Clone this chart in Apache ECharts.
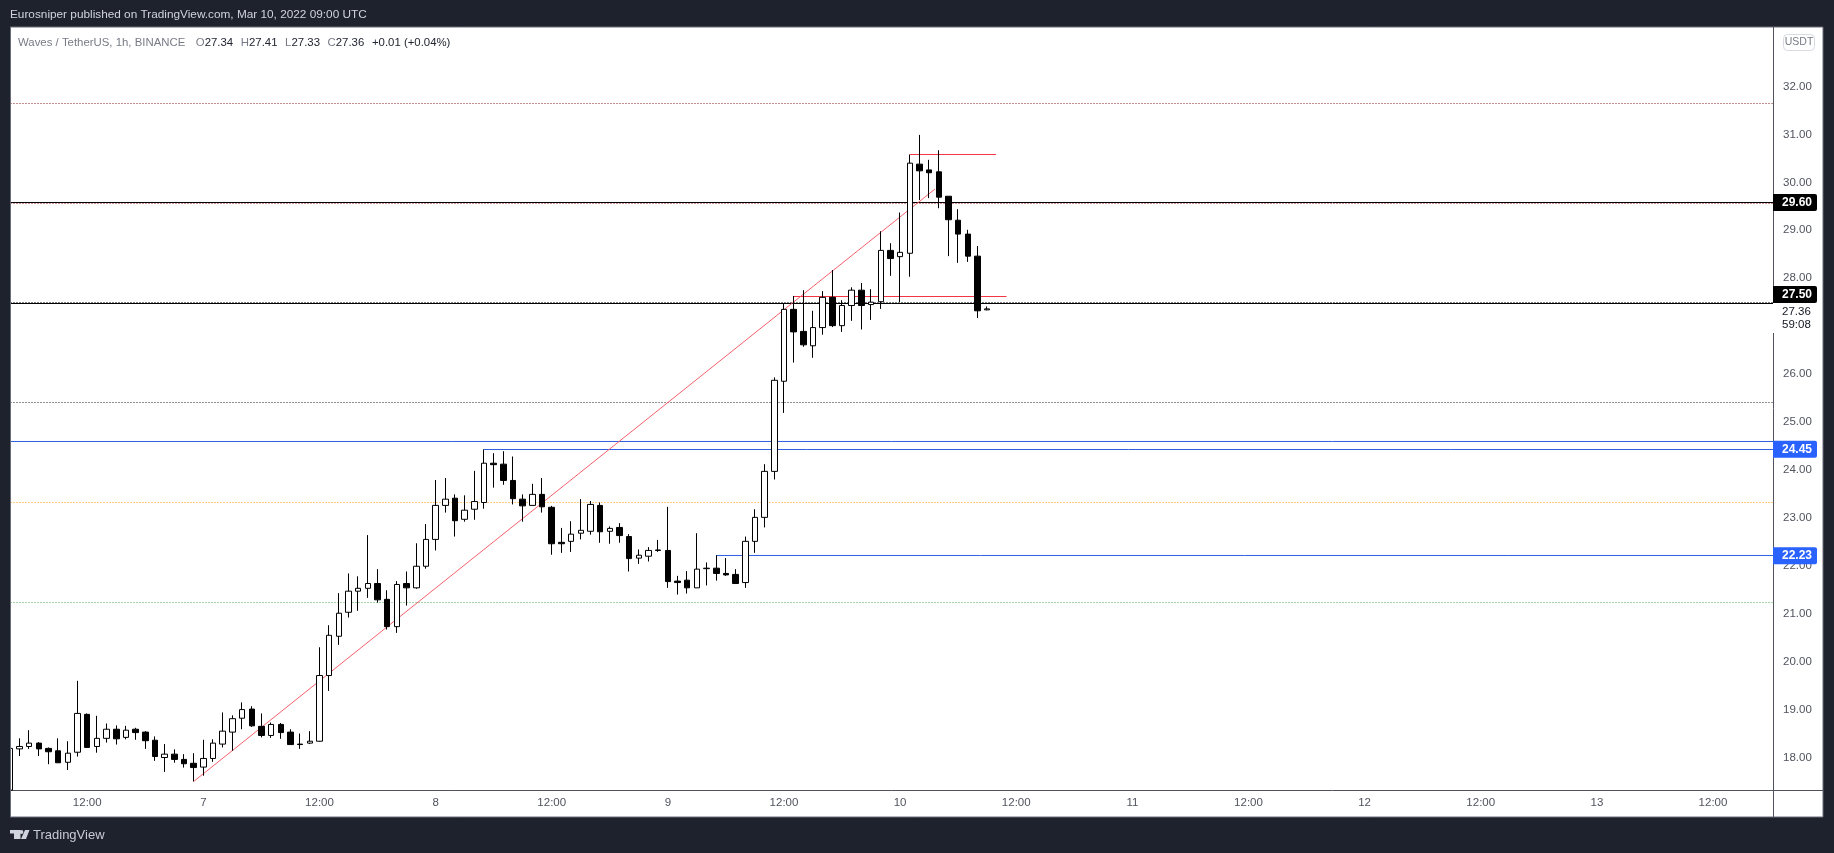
<!DOCTYPE html>
<html>
<head>
<meta charset="utf-8">
<style>html,body{margin:0;padding:0;background:#1e222d}#c{width:1834px;height:853px}</style>
<script src="https://cdn.jsdelivr.net/npm/echarts@6/dist/echarts.min.js"></script>
</head>
<body>
<div id="c"></div>
<script>
// Hour offsets from 7 Mar 00:00 (UTC); first bar = -20, last bar = 81
const firstHour = -20;
const opens = [
17.32,18.18,18.23,18.30,18.19,18.14,17.90,18.11,18.90,18.23,
18.40,18.59,18.42,18.59,18.53,18.36,18.00,18.07,17.96,17.88,
17.80,17.98,18.28,18.53,18.82,19.01,18.65,18.46,18.69,18.53,
18.28,18.30,18.34,19.71,20.53,21.03,21.47,21.53,21.63,21.30,
20.73,21.63,21.54,21.99,22.55,23.26,23.41,22.97,23.18,23.32,
24.14,24.12,23.78,23.39,23.26,23.49,23.22,22.49,22.51,22.68,
22.72,23.26,22.72,22.80,22.61,22.16,22.20,22.33,22.32,21.68,
21.70,21.54,21.94,21.95,21.84,21.82,21.65,22.51,23.01,23.97,
25.85,27.35,26.89,26.59,26.97,27.60,27.01,27.43,27.75,27.45,
27.51,28.58,28.45,28.52,30.38,30.26,30.22,29.71,29.21,28.92,28.46,27.34];
const closes = [
18.19,18.23,18.30,18.18,18.12,17.89,18.09,18.92,18.21,18.40,
18.59,18.39,18.57,18.52,18.35,18.02,18.07,17.96,17.87,17.79,
17.98,18.30,18.55,18.81,19.00,18.66,18.46,18.69,18.52,18.27,
18.27,18.34,19.71,20.55,21.01,21.47,21.53,21.63,21.29,20.73,
21.61,21.54,21.99,22.55,23.26,23.39,22.94,23.16,23.34,24.14,
24.11,23.78,23.40,23.25,23.49,23.23,22.46,22.46,22.66,22.74,
23.28,22.71,22.78,22.63,22.15,22.22,22.32,22.32,21.67,21.65,
21.54,21.93,21.95,21.84,21.81,21.63,22.51,23.01,23.97,25.87,
27.35,26.88,26.61,26.97,27.60,27.01,27.43,27.75,27.43,27.50,
28.58,28.41,28.54,30.40,30.24,30.20,29.69,29.22,28.92,28.46,27.32,27.36];
const highs = [
18.42,18.40,18.57,18.32,18.21,18.40,18.34,19.60,18.92,18.87,
18.71,18.67,18.66,18.62,18.55,18.44,18.28,18.17,18.07,18.09,
18.37,18.38,18.94,18.88,19.15,19.07,18.92,18.73,18.72,18.59,
18.50,18.55,20.30,20.76,21.43,21.84,21.78,22.64,21.93,21.49,
21.68,21.88,22.47,22.87,23.79,23.83,23.49,23.47,23.98,24.43,
24.35,24.39,24.28,23.49,23.71,23.83,23.25,22.79,22.93,23.39,
23.35,23.32,22.82,22.89,22.66,22.34,22.39,22.54,23.23,21.79,
21.89,22.68,22.07,22.22,22.16,21.93,22.61,23.18,24.12,25.93,
27.48,27.63,27.75,27.32,27.73,28.17,27.54,27.81,27.90,27.77,
28.98,28.73,29.37,30.58,30.99,30.47,30.67,29.71,29.44,29.01,28.67,27.41];
const lows = [
17.32,18.03,18.18,18.03,17.86,17.89,17.74,18.02,18.21,18.10,
18.31,18.27,18.38,18.37,18.18,17.93,17.70,17.89,17.79,17.50,
17.62,17.91,18.21,18.14,18.59,18.64,18.42,18.41,18.39,18.27,
18.18,18.28,18.33,19.39,20.35,20.92,21.06,21.33,21.23,20.67,
20.60,21.17,21.52,21.94,22.32,23.11,22.61,22.92,22.96,23.19,
23.63,23.69,23.28,22.92,23.26,23.11,22.23,22.27,22.29,22.55,
22.65,22.48,22.46,22.48,21.88,22.04,22.09,22.29,21.54,21.40,
21.42,21.54,21.59,21.69,21.79,21.63,21.54,22.27,22.80,23.80,
25.19,26.24,26.57,26.34,26.82,26.98,26.88,27.11,26.93,27.13,
27.36,28.05,27.50,28.03,29.63,29.67,29.46,28.46,28.32,28.34,27.17,27.33];

const priceTicks = [18,19,20,21,22,23,24,25,26,27,28,29,30,31,32];
const timeTicks = [-12,0,12,24,36,48,60,72,84,96,108,120,132,144,156];

// Horizontal levels
const dottedLevels = [
  {v:31.645,c:'#8c1c1c'},{v:29.558,c:'#a02020'},{v:27.493,c:'#000000'},
  {v:25.407,c:'#222222'},{v:23.320,c:'#ff9800'},{v:21.234,c:'#4caf50'}
];
const solidLevels = [
  {v:29.579,c:'#000000',text:'29.60',bg:'#000000',fg:'#ffffff'},
  {v:27.472,c:'#000000',text:'27.50',bg:'#000000',fg:'#ffffff',dy:-9},
  {v:24.593,c:'#2f5fe0'},
  {v:24.426,c:'#2f5fe0',from:29,text:'24.45',bg:'#2962ff',fg:'#ffffff'},
  {v:22.215,c:'#2f5fe0',from:53,text:'22.23',bg:'#2962ff',fg:'#ffffff'}
];
const redLevels = [
  {v:30.581,from:73,to:81.9},
  {v:27.618,from:61,to:83}
];
const trendX = [-1,75.6];
const trendY = [17.50,29.86];
const lastPrice = 27.36, countdown = '59:08';

const fontFam = '"Liberation Sans", Arial, sans-serif';
const L = 10.5, R = 1773, T = 27, B = 790;
const xMin = -19.93, xMax = 162.2;
const yMin = 17.322, yMax = 33.241;

const candleData = opens.map((o,i)=>[firstHour+i,o,closes[i],lows[i],highs[i]]);

const series = [];
function line2(xs,ys,color,type,width){
  series.push({type:'line',z:1,silent:true,symbol:'none',animation:false,clip:true,
    data:xs.map((x,i)=>[x,ys[i]]),lineStyle:{color,width:width||1,type:type||'solid'}});
}
dottedLevels.forEach(l=>line2([xMin,xMax],[l.v,l.v],l.c,[1,2]));
solidLevels.forEach(l=>line2([l.from===undefined?xMin:l.from,xMax],[l.v,l.v],l.c));
redLevels.forEach(l=>line2([l.from,l.to],[l.v,l.v],'#f23645'));
line2(trendX,trendY,'#f7606c');

series.push({type:'candlestick',z:3,animation:false,barWidth:6,clip:true,
  encode:{x:0,y:[1,2,3,4]},data:candleData,
  itemStyle:{color:'#ffffff',color0:'#000000',borderColor:'#000000',borderColor0:'#000000',borderWidth:1}});

// Price tags on the axis
const tagLines = solidLevels.filter(l=>l.text).map(l=>({
  yAxis:l.v,
  label:{formatter:l.text,position:'end',distance:0,offset:[0,l.dy||0],opacity:1,
    backgroundColor:l.bg,color:l.fg,fontWeight:'bold',fontFamily:fontFam,fontSize:12,
    padding:[3,1,2,9],width:34,height:12,lineHeight:12,align:'left',verticalAlign:'middle',borderRadius:[0,2,2,0]}
}));
tagLines.push({yAxis:lastPrice,label:{formatter:lastPrice.toFixed(2)+'\n'+countdown,position:'end',distance:0,offset:[0,9],opacity:1,
  backgroundColor:'#ffffff',color:'#131722',fontFamily:fontFam,fontSize:11.5,lineHeight:13,
  padding:[2,11,2,9],align:'left',verticalAlign:'middle'}});
series.push({type:'line',z:5,silent:true,symbol:'none',clip:false,data:[[81,lastPrice]],lineStyle:{opacity:0},
  markLine:{silent:true,symbol:'none',animation:false,lineStyle:{color:'rgba(0,0,0,0)',width:0},precision:2,data:tagLines}});

const gray='#50535e';
const option = {
  backgroundColor:'#1e222d',
  animation:false,
  title:[
    {text:'Eurosniper published on TradingView.com, Mar 10, 2022 09:00 UTC',left:10,top:9,padding:0,
     textStyle:{color:'#d1d4dc',fontWeight:'normal',fontFamily:fontFam,fontSize:11.8}},
    {text:'{g|Waves / TetherUS, 1h, BINANCE}{f|}{g|O}{b|27.34}{s|}{g|H}{b|27.41}{s|}{g|L}{b|27.33}{s|}{g|C}{b|27.36}{s|}{b|+0.01 (+0.04%)}',left:18,top:34,padding:0,
     textStyle:{fontWeight:'normal',rich:{f:{width:10.5},s:{width:7.6},g:{color:'#787b86',fontFamily:fontFam,fontSize:11.4},b:{color:'#222631',fontFamily:fontFam,fontSize:11.4}}}}
  ],
  grid:{left:L,right:1834-R,top:T,bottom:853-B,containLabel:false},
  xAxis:{type:'value',min:xMin,max:xMax,
    axisLine:{show:true,onZero:false,lineStyle:{color:gray,width:1}},
    axisTick:{show:false},splitLine:{show:false},
    axisLabel:{customValues:timeTicks,color:gray,fontFamily:fontFam,fontSize:11.5,margin:7,
      formatter:v=>v%24===0?String(7+v/24):'12:00'}},
  yAxis:{type:'value',position:'right',min:yMin,max:yMax,
    axisLine:{show:true,onZero:false,lineStyle:{color:gray,width:1}},
    axisTick:{show:false},splitLine:{show:false},
    axisLabel:{customValues:priceTicks,color:gray,fontFamily:fontFam,fontSize:11.5,margin:10,
      align:'left',formatter:v=>v.toFixed(2)}},
  series,
  graphic:[
    {type:'rect',z:-10,silent:true,shape:{x:10,y:27,width:1813,height:790},style:{fill:'#ffffff',stroke:'#6a6d78',lineWidth:1}},
    {type:'rect',z:10,silent:true,shape:{x:0,y:27,width:10,height:790},style:{fill:'#1e222d'}},
    {type:'line',z:11,silent:true,shape:{x1:10.5,y1:27,x2:10.5,y2:817},style:{stroke:'#6a6d78',lineWidth:1}},
    {type:'line',z:2,silent:true,shape:{x1:1773.5,y1:790,x2:1773.5,y2:817},style:{stroke:gray,lineWidth:1}},
    {type:'line',z:2,silent:true,shape:{x1:1773,y1:790.5,x2:1823,y2:790.5},style:{stroke:gray,lineWidth:1}},
    {type:'rect',z:6,silent:true,shape:{x:1783.5,y:34.5,width:31,height:16,r:4},style:{fill:'#ffffff',stroke:'#d9dbe3',lineWidth:1}},
    {type:'text',z:7,silent:true,x:1799,y:42.5,style:{text:'USDT',fill:'#787b86',font:'10.5px '+fontFam,align:'center',verticalAlign:'middle'}},
    {type:'polygon',z:7,silent:true,shape:{points:[[10,830],[20.5,830],[20.5,839],[14,839],[14,833.5],[10,833.5]]},style:{fill:'#d1d4dc'}},
    {type:'circle',z:7,silent:true,shape:{cx:21.5,cy:832,r:1.9},style:{fill:'#d1d4dc'}},
    {type:'polygon',z:7,silent:true,shape:{points:[[25,830],[29.5,830],[26,839],[21,839]]},style:{fill:'#d1d4dc'}},
    {type:'text',z:7,silent:true,x:33,y:835,style:{text:'TradingView',fill:'#c8cbd4',font:'13px '+fontFam,verticalAlign:'middle'}}
  ]
};
const chart = echarts.init(document.getElementById('c'),null,{renderer:'canvas',width:1834,height:853});
chart.setOption(option);
</script>
</body>
</html>
